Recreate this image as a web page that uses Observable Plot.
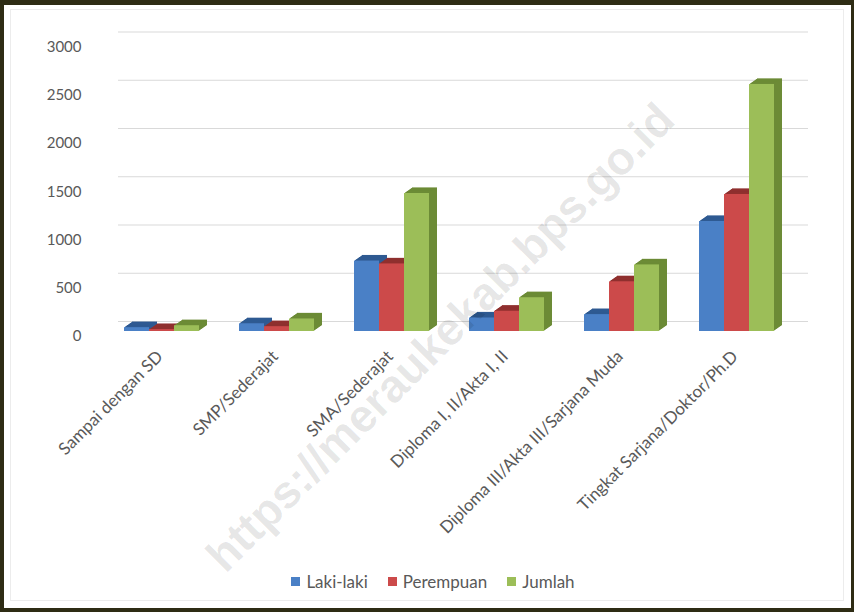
<!DOCTYPE html>
<html>
<head>
<meta charset="utf-8">
<script src="https://cdn.jsdelivr.net/npm/d3@7"></script>
<script src="https://cdn.jsdelivr.net/npm/@observablehq/plot@0.6"></script>
<style>
  html, body { margin: 0; padding: 0; background: #fff; }
  #wrap { position: relative; width: 854px; height: 612px; overflow: hidden; background: #fff; font-family: Lato, "Open Sans", sans-serif; }
  #chart { position: absolute; left: 0; top: 0; }
  #inner { position: absolute; left: 10px; top: 9px; width: 834px; height: 592px; border: 1px solid #ececec; box-sizing: border-box; pointer-events: none; }
  #frame { position: absolute; left: 0; top: 0; width: 854px; height: 612px; box-sizing: border-box; border: 4px solid #2e2c14; border-top-width: 5px; border-right-width: 3px; pointer-events: none; }
  #legend { position: absolute; top: 571px; left: 0; width: 866px; display: flex; justify-content: center; gap: 20px; font-size: 17px; color: #595959; }
  #legend span.item { display: flex; align-items: center; gap: 6px; }
  #legend span.sw { width: 9px; height: 9px; display: inline-block; }
  #watermark { position: absolute; left: 440px; top: 337px; transform: translate(-50%, -50%) rotate(-45deg); white-space: nowrap; font-family: "Liberation Sans", Arial, sans-serif; font-weight: bold; font-size: 46px; color: rgba(0,0,0,0.10); pointer-events: none; }
</style>
</head>
<body>
<div id="wrap">
  <div id="inner"></div>
  <div id="chart"></div>
  <div id="legend"></div>
  <div id="watermark">https://meraukekab.bps.go.id</div>
  <div id="frame"></div>
</div>
<script>
const categories = [
  "Sampai dengan SD",
  "SMP/Sederajat",
  "SMA/Sederajat",
  "Diploma I, II/Akta I, II",
  "Diploma III/Akta III/Sarjana Muda",
  "Tingkat Sarjana/Doktor/Ph.D"
];
const seriesNames = ["Laki-laki", "Perempuan", "Jumlah"];
const lakiLaki  = [40, 80, 730, 140, 175, 1140];
const perempuan = [20, 50, 700, 210, 515, 1420];
const jumlah    = [60, 130, 1430, 350, 690, 2560];
const yTicks = [0, 500, 1000, 1500, 2000, 2500, 3000];

const frontColors = ["#4a80c6", "#cc4a4a", "#9cbe58"];
const sideColors  = ["#2f5a92", "#8f302f", "#6c8b36"];

const valuesBySeries = [lakiLaki, perempuan, jumlah];
const data = [];
categories.forEach((c, i) => {
  seriesNames.forEach((s, j) => {
    data.push({category: c, series: s, value: valuesBySeries[j][i], front: frontColors[j], side: sideColors[j]});
  });
});

const depth = 8;
const extrusion = d3.range(depth, 0, -1).map(k =>
  Plot.barY(data, {fx: "category", x: "series", y: "value", fill: "side", dx: k, dy: -k * 0.7})
);

const chart = Plot.plot({
  width: 854,
  height: 560,
  marginLeft: 102,
  marginRight: 59,
  marginTop: 41.5,
  marginBottom: 229,
  style: {fontFamily: "Lato, 'Open Sans', sans-serif", background: "transparent"},
  fx: {domain: categories, axis: null, padding: 0, label: null},
  x: {domain: seriesNames, axis: null, paddingInner: 0, paddingOuter: 0.75},
  y: {domain: [0, 3000], axis: null},
  color: {type: "identity"},
  marks: [
    Plot.ruleY(yTicks, {y: d => d, stroke: "#d9d9d9", strokeWidth: 1.2, dx: 14, dy: -10}),
    ...extrusion,
    Plot.barY(data, {fx: "category", x: "series", y: "value", fill: "front"}),
    Plot.axisY({ticks: yTicks, tickSize: 0, tickPadding: 23, dy: 5, fontSize: 15, fill: "#595959", label: null, tickFormat: d => String(d)}),
    Plot.text(categories, {fx: d => d, text: d => d, frameAnchor: "bottom", rotate: -45, textAnchor: "end", dy: 26, dx: 2, fontSize: 17, fill: "#595959"})
  ]
});
document.getElementById("chart").appendChild(chart);

const legend = document.getElementById("legend");
seriesNames.forEach((s, j) => {
  const item = document.createElement("span");
  item.className = "item";
  const sw = document.createElement("span");
  sw.className = "sw";
  sw.style.background = frontColors[j];
  const t = document.createElement("span");
  t.textContent = s;
  item.appendChild(sw);
  item.appendChild(t);
  legend.appendChild(item);
});
</script>
</body>
</html>
